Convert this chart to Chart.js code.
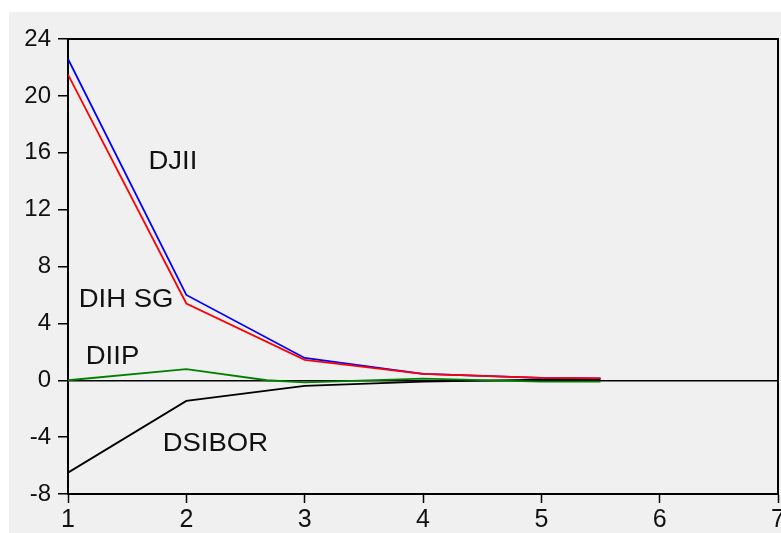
<!DOCTYPE html>
<html>
<head>
<meta charset="utf-8">
<script src="https://cdn.jsdelivr.net/npm/chart.js@4"></script>
<style>
  html, body { margin: 0; padding: 0; background: #ffffff; }
  #wrap { position: relative; width: 781px; height: 533px; }
</style>
</head>
<body>
<div id="wrap"><canvas id="irf" width="781" height="533"></canvas></div>
<script>
// periods and responses
const periods = [1, 2, 3, 4, 5, 5.5]
const djii   = [22.6, 6.0, 1.57, 0.45, 0.17, 0.13]
const dihsg  = [21.5, 5.4, 1.43, 0.45, 0.17, 0.13]
const diipX  = [1, 2, 2.68, 3, 4, 5, 5.5]
const diip   = [0, 0.78, 0, -0.15, 0.12, -0.1, -0.1]
const dsibor = [-6.5, -1.45, -0.4, -0.1, 0.05, 0.05]
const yTicks = [24, 20, 16, 12, 8, 4, 0, -4, -8]

// series labels placed in data units
const seriesLabels = [
  { text: 'DJII',   x: 1.68, y: 15.35 },
  { text: 'DIH SG', x: 1.09, y: 5.65 },
  { text: 'DIIP',   x: 1.15, y: 1.64 },
  { text: 'DSIBOR', x: 1.80, y: -4.48 }
]

const pts = (xs, ys) => ys.map((v, i) => ({ x: xs[i], y: v }))

const panel = {
  id: 'panel',
  beforeDraw(chart) {
    const c = chart.ctx
    c.save()
    c.fillStyle = '#f0f0f0'
    c.fillRect(9, 12, chart.width - 9, chart.height - 12)
    c.restore()
  },
  afterDatasetsDraw(chart) {
    const c = chart.ctx
    const a = chart.chartArea
    const xs = chart.scales.x, ys = chart.scales.y
    c.save()
    c.strokeStyle = '#000'
    c.lineWidth = 2
    c.beginPath()
    c.moveTo(a.left, a.top)
    c.lineTo(a.right, a.top)
    c.lineTo(a.right, a.bottom)
    c.stroke()
    c.fillStyle = '#111'
    c.font = '25px "Liberation Sans", Arial, sans-serif'
    c.textBaseline = 'middle'
    c.textAlign = 'left'
    seriesLabels.forEach(l => {
      const px = xs.getPixelForValue(l.x)
      const py = ys.getPixelForValue(l.y)
      c.save()
      c.translate(px, py)
      c.scale(1.1, 1)
      c.fillText(l.text, 0, 0)
      c.restore()
    })
    c.restore()
  }
}

new Chart(document.getElementById('irf'), {
  type: 'line',
  data: {
    datasets: [
      { label: 'DIH SG', data: pts(periods, dihsg), borderColor: '#ff0000', order: 0 },
      { label: 'DJII', data: pts(periods, djii), borderColor: '#0000ff', order: 1 },
      { label: 'DIIP', data: pts(diipX, diip), borderColor: '#008000', order: 2 },
      { label: 'DSIBOR', data: pts(periods, dsibor), borderColor: '#000000', order: 3 }
    ]
  },
  options: {
    responsive: false,
    animation: false,
    events: [],
    layout: { padding: { top: 39, right: 3, left: 0, bottom: 0 } },
    elements: {
      line: { borderWidth: 1.8, tension: 0, fill: false },
      point: { radius: 0 }
    },
    plugins: { legend: { display: false }, tooltip: { enabled: false } },
    scales: {
      x: {
        type: 'linear',
        min: 1, max: 7,
        afterFit: s => { s.height = 39; s.paddingLeft = 0; s.paddingRight = 0 },
        ticks: {
          stepSize: 1, color: '#111', padding: 2, maxRotation: 0,
          font: { family: '"Liberation Sans", Arial, sans-serif', size: 25 }
        },
        grid: { drawOnChartArea: false, tickLength: 9, tickColor: '#000', tickWidth: 1.5 },
        border: { display: true, color: '#000', width: 2 }
      },
      y: {
        min: -8, max: 24,
        afterFit: s => { s.width = 68; s.paddingTop = 0; s.paddingBottom = 0 },
        afterBuildTicks: s => { s.ticks = yTicks.map(v => ({ value: v })) },
        ticks: {
          color: '#111', padding: 7,
          font: { family: '"Liberation Sans", Arial, sans-serif', size: 24 }
        },
        grid: {
          drawOnChartArea: true,
          color: ctx => (ctx.tick && ctx.tick.value === 0) ? '#000' : 'rgba(0,0,0,0)',
          lineWidth: 1.5,
          tickLength: 10, tickColor: '#000', tickWidth: 1.5
        },
        border: { display: true, color: '#000', width: 2 }
      }
    }
  },
  plugins: [panel]
})
</script>
</body>
</html>
